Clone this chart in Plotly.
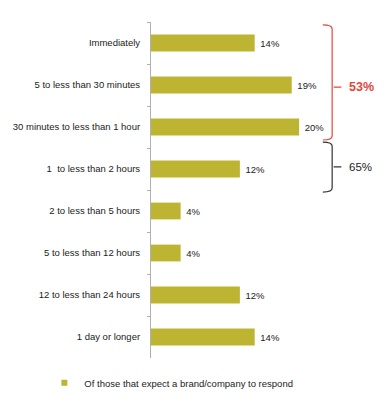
import plotly.graph_objects as go

categories = ["Immediately", "5 to less than 30 minutes", "30 minutes to less than 1 hour",
              "1  to less than 2 hours", "2 to less than 5 hours", "5 to less than 12 hours",
              "12 to less than 24 hours", "1 day or longer"]
values = [14, 19, 20, 12, 4, 4, 12, 14]
value_labels = ["14%", "19%", "20%", "12%", "4%", "4%", "12%", "14%"]
series_name = "Of those that expect a brand/company to respond"
bracket_labels = ["53%", "65%"]

FONT = "Liberation Sans, Arial, sans-serif"
BAR = "#BDB532"
RED = "#E2473B"
TXT = "#222222"

fig = go.Figure()
fig.add_trace(go.Bar(
    x=values, y=categories, orientation="h", marker=dict(color=BAR, line=dict(width=0)),
    width=0.4, text=["\u00a0" + t for t in value_labels], textposition="outside",
    textfont=dict(family=FONT, size=9.5, color=TXT), cliponaxis=False,
    showlegend=False, hoverinfo="skip"))
fig.add_trace(go.Scatter(
    x=[None], y=[None], mode="markers", name=series_name,
    marker=dict(symbol="square", size=6, color=BAR)))

n = len(categories)
def py(i):
    return (n - 0.5 - i) / n

def bracket(xv, xh, xt, top, bot, mid, color, w):
    r = 0.012
    yt, yb, ym = py(top), py(bot), py(mid)
    path = (f"M {xh},{yt} Q {xv},{yt} {xv},{yt - r} L {xv},{yb + r} "
            f"Q {xv},{yb} {xh},{yb} M {xv + 0.2},{ym} L {xt},{ym}")
    fig.add_shape(type="path", path=path, xref="x", yref="paper",
                  line=dict(color=color, width=w))

bracket(24.46, 23.2, 25.7, -0.43, 2.31, 1.05, RED, 1.2)
bracket(24.46, 23.2, 25.7, 2.36, 3.55, 2.95, "#333", 1.2)
fig.add_annotation(x=26.5, y=py(1.05), xref="x", yref="paper", text=bracket_labels[0],
                   showarrow=False, xanchor="left", yanchor="middle",
                   font=dict(family=FONT, size=12.5, color=RED, weight="bold"))
fig.add_annotation(x=26.5, y=py(2.95), xref="x", yref="paper", text=bracket_labels[1],
                   showarrow=False, xanchor="left", yanchor="middle",
                   font=dict(family=FONT, size=11.5, color=TXT))

fig.update_layout(
    width=389, height=406, margin=dict(l=151, r=1, t=22, b=48),
    paper_bgcolor="white", plot_bgcolor="white",
    font=dict(family=FONT, size=9.5, color=TXT),
    xaxis=dict(range=[0, 32], visible=False, fixedrange=True),
    yaxis=dict(categoryorder="array", categoryarray=categories, range=[n - 0.5, -0.5],
               showline=True, linecolor="#B0B0B0", linewidth=1, ticks="outside",
               tickson="boundaries", ticklen=3, tickcolor="#B0B0B0", showgrid=False,
               automargin=False,
               tickfont=dict(family=FONT, size=9.5, color=TXT), ticklabelstandoff=8),
    legend=dict(orientation="h", x=-0.45, xanchor="left", y=-0.074, yanchor="middle",
                font=dict(family=FONT, size=9.5, color=TXT), bgcolor="rgba(0,0,0,0)"),
    bargap=0.6,
)
fig.write_html("out.html")
